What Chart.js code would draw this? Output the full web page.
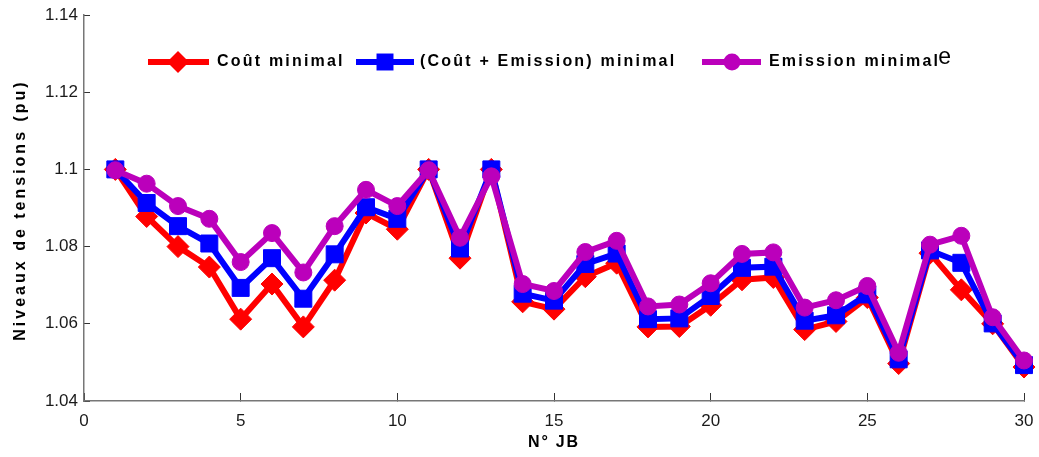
<!DOCTYPE html>
<html>
<head>
<meta charset="utf-8">
<script src="https://cdn.jsdelivr.net/npm/chart.js@4.4.0/dist/chart.umd.min.js"></script>
<style>
  html, body { margin: 0; padding: 0; background: #fff; }
  #wrap { width: 1039px; height: 457px; }
</style>
</head>
<body>
<div id="wrap"><canvas id="voltChart"></canvas></div>
<script>
// Bus numbers (N° JB) and voltage levels (pu) for the three cases
const busNo = [1, 2, 3, 4, 5, 6, 7, 8, 9, 10, 11, 12, 13, 14, 15,
               16, 17, 18, 19, 20, 21, 22, 23, 24, 25, 26, 27, 28, 29, 30];

const coutMin = [1.1, 1.0878, 1.0800, 1.0747, 1.0612, 1.0703, 1.0592, 1.0713, 1.0887, 1.0845,
                 1.1, 1.0770, 1.1, 1.0657, 1.0638, 1.0722, 1.0757, 1.0592, 1.0593, 1.0648,
                 1.0714, 1.0720, 1.0585, 1.0606, 1.0668, 1.0497, 1.0783, 1.0688, 1.0600, 1.0488];

const coutEmiMin = [1.1, 1.0913, 1.0853, 1.0808, 1.0693, 1.0770, 1.0665, 1.0780, 1.0902, 1.0872,
                    1.1, 1.0795, 1.1, 1.0678, 1.0660, 1.0755, 1.0782, 1.0612, 1.0614, 1.0672,
                    1.0745, 1.0748, 1.0608, 1.0622, 1.0676, 1.0508, 1.0790, 1.0758, 1.0601, 1.0493];

const emiMin = [1.0998, 1.0963, 1.0905, 1.0872, 1.0760, 1.0835, 1.0733, 1.0853, 1.0947, 1.0905,
                1.0998, 1.0823, 1.0982, 1.0703, 1.0685, 1.0786, 1.0815, 1.0645, 1.0650, 1.0705,
                1.0781, 1.0785, 1.0642, 1.0661, 1.0698, 1.0525, 1.0805, 1.0828, 1.0617, 1.0505];

const seriesNames = ['Coût minimal', '(Coût + Emission) minimal', 'Emission minimal'];

const xTicks = [0, 5, 10, 15, 20, 25, 30];
const yTicks = [1.04, 1.06, 1.08, 1.1, 1.12, 1.14];
const yTickLabels = ['1.04', '1.06', '1.08', '1.1', '1.12', '1.14'];

const FONT = "'Liberation Sans', Arial, Helvetica, sans-serif";
const RED = '#ff0000';
const BLUE = '#0000ff';
const PURPLE = '#bb00bb';

function toPoints(values) {
    return busNo.map((n, i) => ({ x: n, y: values[i] }));
}

// small marker drawer, used only for the legend samples
function drawMarker(ctx, style, x, y, r) {
    ctx.beginPath();
    if (style === 'rectRot') {
        ctx.moveTo(x - r, y); ctx.lineTo(x, y - r); ctx.lineTo(x + r, y); ctx.lineTo(x, y + r);
        ctx.closePath();
    } else if (style === 'rect') {
        const s = r * Math.SQRT1_2;
        ctx.rect(x - s, y - s, 2 * s, 2 * s);
    } else {
        ctx.arc(x, y, r, 0, Math.PI * 2);
    }
    ctx.fill();
}

// legend + axis titles drawn by hand (letter spaced, bold, like the original figure)
const decorPlugin = {
    id: 'decor',
    afterDraw(chart) {
        const ctx = chart.ctx;
        ctx.save();
        ctx.fillStyle = '#000';
        ctx.textBaseline = 'middle';

        // legend
        const legendY = 62;
        const items = [
            { x1: 148, x2: 209, mx: 178, tx: 217 },
            { x1: 356, x2: 414, mx: 385, tx: 420 },
            { x1: 702, x2: 761, mx: 732, tx: 769 }
        ];
        items.forEach((it, i) => {
            const ds = chart.data.datasets[i];
            ctx.strokeStyle = ds.borderColor;
            ctx.fillStyle = ds.borderColor;
            ctx.lineWidth = 6;
            ctx.beginPath();
            ctx.moveTo(it.x1, legendY);
            ctx.lineTo(it.x2, legendY);
            ctx.stroke();
            drawMarker(ctx, ds.pointStyle, it.mx, legendY, ds.pointRadius);

            ctx.fillStyle = '#000';
            ctx.font = 'bold 16px ' + FONT;
            ctx.letterSpacing = '2.2px';
            ctx.textAlign = 'left';
            ctx.fillText(seriesNames[i], it.tx, legendY);
            if (i === 2) {
                const w = ctx.measureText(seriesNames[i]).width;
                ctx.letterSpacing = '0px';
                ctx.font = '23px ' + FONT;
                ctx.fillText('e', it.tx + w - 2, legendY - 4);
            }
        });

        // x title
        ctx.fillStyle = '#000';
        ctx.font = 'bold 16px ' + FONT;
        ctx.letterSpacing = '1.8px';
        ctx.textAlign = 'center';
        ctx.fillText('N° JB', 554, 443);

        // y title
        ctx.save();
        ctx.translate(21, 210);
        ctx.rotate(-Math.PI / 2);
        ctx.letterSpacing = '3px';
        ctx.fillText('Niveaux de tensions (pu)', 0, 0);
        ctx.restore();

        ctx.restore();
    }
};

const chartCtx = document.getElementById('voltChart');
new Chart(chartCtx, {
    type: 'line',
    data: {
        datasets: [
            {
                label: seriesNames[0],
                data: toPoints(coutMin),
                borderColor: RED,
                backgroundColor: RED,
                borderWidth: 6,
                pointStyle: 'rectRot',
                pointRadius: 11,
                pointBorderWidth: 1,
                pointBackgroundColor: RED,
                pointBorderColor: RED,
                order: 3
            },
            {
                label: seriesNames[1],
                data: toPoints(coutEmiMin),
                borderColor: BLUE,
                backgroundColor: BLUE,
                borderWidth: 6,
                pointStyle: 'rect',
                pointRadius: 12,
                pointBorderWidth: 1,
                pointBackgroundColor: BLUE,
                pointBorderColor: BLUE,
                order: 2
            },
            {
                label: seriesNames[2],
                data: toPoints(emiMin),
                borderColor: PURPLE,
                backgroundColor: PURPLE,
                borderWidth: 6,
                pointStyle: 'circle',
                pointRadius: 8.5,
                pointBorderWidth: 1,
                pointBackgroundColor: PURPLE,
                pointBorderColor: PURPLE,
                order: 1
            }
        ]
    },
    options: {
        responsive: true,
        maintainAspectRatio: false,
        animation: false,
        clip: false,
        layout: { autoPadding: false, padding: { top: 15, right: 15, left: 0, bottom: 0 } },
        elements: { line: { tension: 0 } },
        scales: {
            x: {
                type: 'linear',
                min: 0,
                max: 30,
                afterFit: (scale) => {
                    scale.height = 56;
                    scale.paddingLeft = 0;      // tick padding would otherwise shrink the plot
                    scale.paddingRight = 0;
                },
                afterBuildTicks: (scale) => { scale.ticks = xTicks.map(v => ({ value: v })); },
                ticks: {
                    padding: 18,
                    color: '#1a1a1a',
                    font: { family: FONT, size: 17 },
                    maxRotation: 0,
                    callback: (v) => String(v)
                },
                grid: {
                    drawOnChartArea: false,
                    drawTicks: true,
                    tickLength: -8,
                    color: '#333',
                    lineWidth: 1
                },
                border: { color: '#777', width: 1.5 }
            },
            y: {
                min: 1.04,
                max: 1.14,
                afterFit: (scale) => {
                    scale.width = 84;
                    scale.paddingTop = 0;
                    scale.paddingBottom = 0;
                },
                afterBuildTicks: (scale) => { scale.ticks = yTicks.map(v => ({ value: v })); },
                ticks: {
                    padding: 12,
                    color: '#1a1a1a',
                    font: { family: FONT, size: 17 },
                    callback: (v, i) => yTickLabels[i]
                },
                grid: {
                    drawOnChartArea: false,
                    drawTicks: true,
                    tickLength: -6,
                    color: '#333',
                    lineWidth: 1
                },
                border: { color: '#777', width: 1.5 }
            }
        },
        plugins: {
            legend: { display: false },
            tooltip: { enabled: false },
            title: { display: false }
        }
    },
    plugins: [decorPlugin]
});
</script>
</body>
</html>
